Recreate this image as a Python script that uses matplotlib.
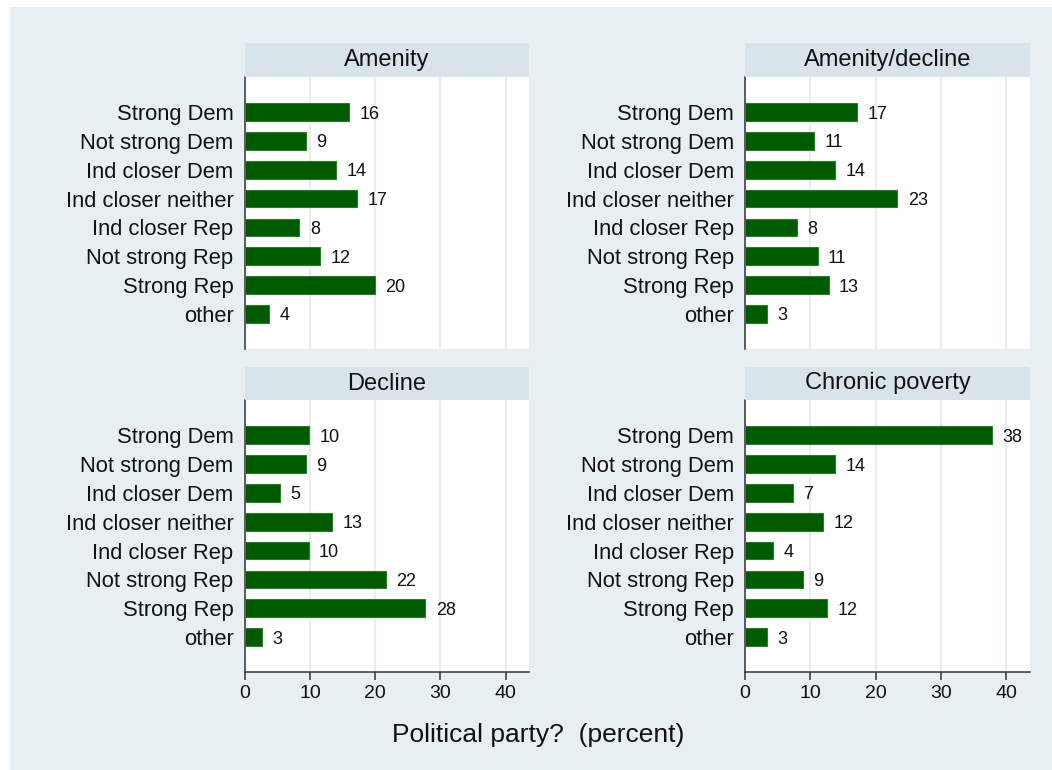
import matplotlib
matplotlib.use("Agg")
import matplotlib.pyplot as plt
from matplotlib.patches import Rectangle

plt.rcParams['font.family'] = ['Liberation Sans', 'DejaVu Sans']

categories = ["Strong Dem", "Not strong Dem", "Ind closer Dem", "Ind closer neither",
              "Ind closer Rep", "Not strong Rep", "Strong Rep", "other"]
panel_titles = ["Amenity", "Amenity/decline", "Decline", "Chronic poverty"]

amenity = [16.0, 9.4, 14.0, 17.2, 8.4, 11.6, 20.0, 3.7]
amenity_decline = [17.1, 10.6, 13.8, 23.3, 7.9, 11.1, 12.8, 3.4]
decline = [9.9, 9.4, 5.4, 13.4, 9.8, 21.7, 27.7, 2.6]
chronic_poverty = [37.8, 13.8, 7.3, 12.0, 4.3, 8.9, 12.5, 3.4]
series = [amenity, amenity_decline, decline, chronic_poverty]

x_ticks = [0, 10, 20, 30, 40]
x_label = "Political party?  (percent)"

W, H = 1052, 770
BG = '#e8eff2'
STRIP = '#d8e4ea'
BAR = '#005a00'
BAR_EDGE = '#2f7a2f'
GRID = '#e6eef1'
AX = '#333333'

fig = plt.figure(figsize=(W / 100, H / 100), dpi=100, facecolor='white')
fig.patches.append(Rectangle((10 / W, 0), 1 - 10 / W, 1 - 7 / H, transform=fig.transFigure,
                             facecolor=BG, edgecolor='none', zorder=-10))

lefts = [244.7, 745.0]
rights = [529.0, 1030.0]
tops = [77.0, 400.0]
bottoms = [349.0, 672.3]
strip_tops = [43.3, 367.0]

for k in range(4):
    r, c = divmod(k, 2)
    x0, x1 = lefts[c], rights[c]
    yt, yb = tops[r], bottoms[r]
    ax = fig.add_axes([x0 / W, 1 - yb / H, (x1 - x0) / W, (yb - yt) / H])
    ax.set_zorder(1)
    ax.set_facecolor('white')
    vals = series[k]
    ypos = list(range(len(categories)))
    ax.barh(ypos, vals, height=0.61, color=BAR, edgecolor=BAR_EDGE, linewidth=0.8, zorder=3)
    for y, v in zip(ypos, vals):
        ax.annotate(f"{round(v):d}", xy=(v, y), xytext=(7.5, 0), textcoords='offset points',
                    ha='left', va='center_baseline', fontsize=13, color='#111111', zorder=4)
    ax.set_xlim(0, 43.6)
    ax.set_ylim(7 + 1.22, -1.22)
    ax.set_yticks(ypos)
    ax.set_yticklabels(categories, fontsize=15.8, color='#111111')
    ax.tick_params(axis='y', length=0, pad=8)
    ax.set_xticks(x_ticks)
    ax.grid(axis='x', color=GRID, linewidth=1.6, zorder=0)
    ax.set_axisbelow(True)
    for s in ['top', 'right']:
        ax.spines[s].set_visible(False)
    ax.spines['left'].set_color(AX)
    ax.spines['left'].set_linewidth(1.1)
    if r == 1:
        ax.spines['bottom'].set_color(AX)
        ax.spines['bottom'].set_linewidth(1.1)
        ax.set_xticklabels([str(t) for t in x_ticks], fontsize=14, color='#111111')
        ax.tick_params(axis='x', length=6, width=1.1, color=AX, pad=3)
    else:
        ax.spines['bottom'].set_visible(False)
        ax.tick_params(axis='x', length=0, labelbottom=False)
    # strip
    sax = fig.add_axes([x0 / W, 1 - yt / H, (x1 - x0) / W, (yt - strip_tops[r]) / H])
    sax.set_zorder(1)
    sax.set_facecolor(STRIP)
    sax.set_xticks([])
    sax.set_yticks([])
    for s in sax.spines.values():
        s.set_visible(False)
    sax.text(0.5, 0.5, panel_titles[k], ha='center', va='center', fontsize=17,
             color='#111111', transform=sax.transAxes)

fig.text(538 / W, 1 - 735 / H, x_label, ha='center', va='center', fontsize=19, color='#111111')

fig.savefig('out.png', dpi=100, facecolor='white')
